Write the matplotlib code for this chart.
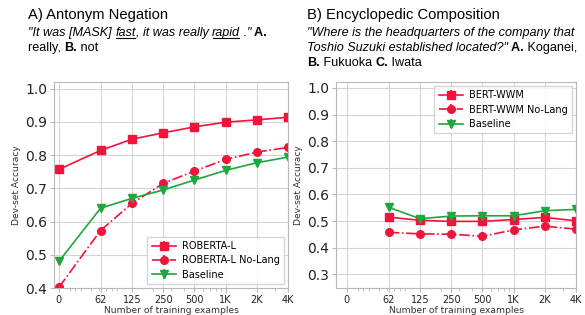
import matplotlib
matplotlib.use("Agg")
import matplotlib.pyplot as plt
from matplotlib.transforms import IdentityTransform
from matplotlib.ticker import SymmetricalLogLocator

n_train = [0, 62, 125, 250, 500, 1000, 2000, 4000]
tick_labels = ["0", "62", "125", "250", "500", "1K", "2K", "4K"]

# A) Antonym negation
roberta = [0.757, 0.814, 0.848, 0.867, 0.885, 0.899, 0.906, 0.914]
roberta_nolang = [0.402, 0.573, 0.655, 0.715, 0.752, 0.787, 0.809, 0.823]
baseline_a = [0.480, 0.640, 0.670, 0.695, 0.725, 0.754, 0.777, 0.794]

# B) Encyclopedic composition (no zero-shot point)
n_train_b = [62, 125, 250, 500, 1000, 2000, 4000]
bert_wwm = [0.515, 0.503, 0.499, 0.499, 0.506, 0.514, 0.501]
bert_wwm_nolang = [0.458, 0.452, 0.451, 0.443, 0.467, 0.481, 0.470]
baseline_b = [0.552, 0.509, 0.519, 0.520, 0.520, 0.539, 0.544]

RED = "#f0143c"
GREEN = "#1fa63c"

W, H = 585, 315
fig = plt.figure(figsize=(W / 100, H / 100), dpi=100)
ax_a = fig.add_axes([54 / W, 1 - 288 / H, (288 - 54) / W, (288 - 82) / H])
ax_b = fig.add_axes([336 / W, 1 - 288 / H, (576 - 336) / W, (288 - 82) / H])


def style_axes(ax, xlo, ylim, yticks):
    ax.set_xscale("symlog", linthresh=40, linscale=0.19)
    ax.xaxis.set_minor_locator(SymmetricalLogLocator(linthresh=40, base=10, subs=range(2, 10)))
    ax.set_xlim(xlo, 4000)
    ax.set_xticks(n_train)
    ax.set_xticklabels(tick_labels)
    ax.set_ylim(*ylim)
    ax.set_yticks(yticks)
    ax.set_yticklabels([f"{t:.1f}" for t in yticks])
    ax.grid(True, which="major", color="#d4d4d4", linewidth=0.8)
    ax.set_axisbelow(True)
    for sp in ax.spines.values():
        sp.set_color("#b8b8b8")
        sp.set_linewidth(0.8)
    ax.tick_params(axis="x", which="major", labelsize=7, length=3, color="#b8b8b8", pad=2,
                   labelcolor="#222222")
    ax.tick_params(axis="x", which="minor", length=1.8, color="#b8b8b8")
    ax.tick_params(axis="y", which="major", labelsize=10, length=3, color="#b8b8b8", pad=2,
                   labelcolor="#222222")
    ax.set_xlabel("Number of training examples", fontsize=6.6, labelpad=1, color="#333333")
    ax.set_ylabel("Dev-set Accuracy", fontsize=6.6, labelpad=3, color="#333333")


def draw(ax, x, y, color, marker, ls, label):
    ax.errorbar(x, y, yerr=[0] * len(y), color=color, marker=marker, ls=ls,
                markersize=5.5, linewidth=1.2, label=label)


LEG = dict(fontsize=7, frameon=True, edgecolor="#cccccc", fancybox=False, borderpad=0.45,
           labelspacing=0.45, handlelength=2.5, handletextpad=0.6, borderaxespad=0.4)

draw(ax_a, n_train, roberta, RED, "s", "-", "ROBERTA-L")
draw(ax_a, n_train, roberta_nolang, RED, "o", "-.", "ROBERTA-L No-Lang")
draw(ax_a, n_train, baseline_a, GREEN, "v", "-", "Baseline")
style_axes(ax_a, -9, (0.4, 1.02), [0.4, 0.5, 0.6, 0.7, 0.8, 0.9, 1.0])
ax_a.legend(loc="lower right", **LEG)

draw(ax_b, n_train_b, bert_wwm, RED, "s", "-", "BERT-WWM")
draw(ax_b, n_train_b, bert_wwm_nolang, RED, "o", "-.", "BERT-WWM No-Lang")
draw(ax_b, n_train_b, baseline_b, GREEN, "v", "-", "Baseline")
style_axes(ax_b, -20, (0.249, 1.022), [0.3, 0.4, 0.5, 0.6, 0.7, 0.8, 0.9, 1.0])
ax_b.legend(loc="upper right", **LEG)

renderer = fig.canvas.get_renderer()
FONT = "Liberation Sans"


def runs(x, top_y, parts, size=9.1):
    # parts: (text, weight, style, underline)
    y = H - top_y
    for txt, weight, style, under in parts:
        t = fig.text(x, y, txt, transform=IdentityTransform(), fontsize=size,
                     family=FONT, weight=weight, style=style, va="baseline", ha="left")
        bb = t.get_window_extent(renderer)
        if under:
            fig.add_artist(plt.Line2D([bb.x0 + 1, bb.x1 - 1], [y - 2, y - 2],
                                      transform=IdentityTransform(), color="black", lw=0.8))
        x = bb.x1


fig.text(28, H - 19, "A) Antonym Negation", transform=IdentityTransform(),
         fontsize=10.6, family=FONT, va="baseline")
runs(28, 36, [('"It was [MASK] ', "normal", "italic", False),
              ("fast", "normal", "italic", True),
              (", it was really ", "normal", "italic", False),
              ("rapid", "normal", "italic", True),
              (' ."', "normal", "italic", False),
              (" A.", "bold", "normal", False)])
runs(28, 51, [("really, ", "normal", "normal", False),
              ("B.", "bold", "normal", False),
              (" not", "normal", "normal", False)])

fig.text(307, H - 19, "B) Encyclopedic Composition", transform=IdentityTransform(),
         fontsize=10.6, family=FONT, va="baseline")
runs(307, 36, [('"Where is the headquarters of the company that', "normal", "italic", False)])
runs(307, 51, [('Toshio Suzuki established located?"', "normal", "italic", False),
               (" A.", "bold", "normal", False),
               (" Koganei,", "normal", "normal", False)])
runs(307, 66, [("B.", "bold", "normal", False),
               (" Fukuoka ", "normal", "normal", False),
               ("C.", "bold", "normal", False),
               (" Iwata", "normal", "normal", False)])

fig.savefig("out.png", dpi=100)
